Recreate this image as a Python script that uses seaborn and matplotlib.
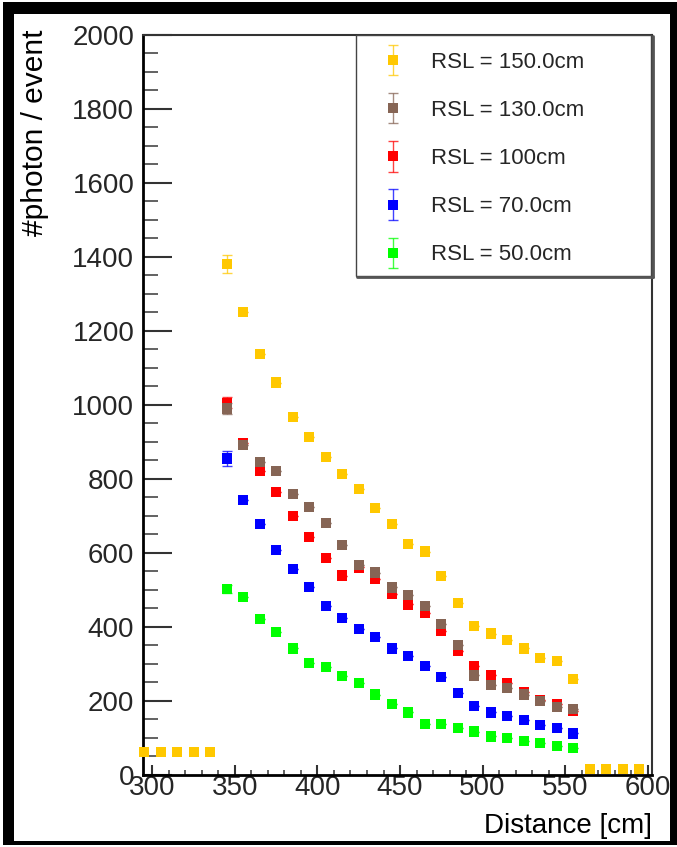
import numpy as np
import pandas as pd
import matplotlib
matplotlib.use("Agg")
import matplotlib.pyplot as plt
import seaborn as sns
from matplotlib.patches import Rectangle
from matplotlib.lines import Line2D
from matplotlib.container import ErrorbarContainer
from matplotlib.legend_handler import HandlerErrorbar
from matplotlib.ticker import MultipleLocator

# ---------------- data ----------------
distance = [345, 355, 365, 375, 385, 395, 405, 415, 425, 435, 445,
            455, 465, 475, 485, 495, 505, 515, 525, 535, 545, 555]
outer_left = [295, 305, 315, 325, 335]
outer_right = [565, 575, 585, 595]

rsl_150 = [1380, 1250, 1137, 1060, 967, 912, 859, 812, 772, 720, 677,
           624, 603, 537, 463, 402, 381, 363, 341, 315, 307, 259]
rsl_150_left = [60, 60, 60, 60, 60]
rsl_150_right = [15, 15, 15, 15]
rsl_130 = [990, 891, 846, 821, 759, 724, 681, 620, 567, 546, 506,
           485, 455, 407, 350, 268, 242, 233, 216, 199, 182, 177]
rsl_100 = [1005, 897, 821, 764, 699, 643, 585, 538, 560, 530, 488,
           460, 436, 388, 335, 294, 268, 247, 224, 202, 190, 172]
rsl_70 = [855, 742, 677, 607, 555, 507, 456, 424, 393, 372, 341,
          320, 294, 264, 220, 185, 168, 159, 147, 133, 125, 111]
rsl_50 = [502, 481, 420, 385, 341, 302, 290, 267, 247, 216, 190,
          168, 137, 137, 125, 116, 103, 99, 90, 85, 77, 72]

err_150 = [24, 0, 0, 0, 0, 0, 0, 0, 0, 0, 0, 0, 0, 0, 0, 0, 0, 0, 0, 0, 0, 0]
err_130 = [16, 0, 0, 0, 0, 0, 0, 0, 0, 0, 0, 0, 0, 0, 0, 0, 0, 0, 0, 0, 0, 0]
err_100 = [15, 0, 0, 0, 0, 0, 0, 0, 0, 0, 0, 0, 0, 0, 0, 0, 0, 0, 0, 0, 0, 0]
err_70 = [21, 0, 0, 0, 0, 0, 0, 0, 0, 0, 0, 0, 0, 0, 0, 0, 0, 0, 0, 0, 0, 0]
err_50 = [10, 0, 0, 0, 0, 0, 0, 0, 0, 0, 0, 0, 0, 0, 0, 0, 0, 0, 0, 0, 0, 0]

labels = ["RSL = 150.0cm", "RSL = 130.0cm", "RSL = 100cm",
          "RSL = 70.0cm", "RSL = 50.0cm"]
colors = ["#FFC800", "#866555", "#FF0000", "#0000FF", "#00FF00"]

x_ticks = [300, 350, 400, 450, 500, 550, 600]
y_ticks = [0, 200, 400, 600, 800, 1000, 1200, 1400, 1600, 1800, 2000]

# ---------------- build table (draw order: green, blue, red, brown, yellow) ----
series = {
    labels[0]: (outer_left + distance + outer_right,
                rsl_150_left + rsl_150 + rsl_150_right),
    labels[1]: (distance, rsl_130),
    labels[2]: (distance, rsl_100),
    labels[3]: (distance, rsl_70),
    labels[4]: (distance, rsl_50),
}
errors = {labels[0]: err_150, labels[1]: err_130, labels[2]: err_100,
          labels[3]: err_70, labels[4]: err_50}
palette = dict(zip(labels, colors))
draw_order = [labels[4], labels[3], labels[2], labels[1], labels[0]]
frames = []
for lab in draw_order:
    xs, ys = series[lab]
    frames.append(pd.DataFrame({"distance": xs, "photons": ys, "rsl": lab}))
df = pd.concat(frames, ignore_index=True)

# ---------------- figure ----------------
sns.set_theme(style="ticks")
plt.rcParams["font.family"] = ["Liberation Sans", "DejaVu Sans"]

W, H = 677, 847
fig = plt.figure(figsize=(W / 100, H / 100), dpi=100)
fig.patch.set_facecolor("white")

L, R, T, B = 142.7, 651.7, 35.0, 774.5
ax = fig.add_axes([L / W, 1 - B / H, (R - L) / W, (B - T) / H])
ax.set_facecolor("white")

# error bars (drawn below markers)
err_handles = {}
for lab in draw_order:
    xs = distance
    ys = series[lab][1] if lab != labels[0] else rsl_150
    c = ax.errorbar(xs, ys, yerr=errors[lab], fmt="none", ecolor=palette[lab],
                    elinewidth=1.0, capsize=3.5, capthick=1.0, alpha=0.75,
                    zorder=2)
    err_handles[lab] = c

sns.scatterplot(data=df, x="distance", y="photons", hue="rsl",
                hue_order=labels, palette=palette, marker="s", s=55,
                linewidth=0, legend=False, ax=ax, clip_on=False, zorder=3)

ax.set_xlim(294.1, 602.5)
ax.set_ylim(0, 2000)
ax.set_xticks(x_ticks)
ax.set_xticklabels([str(v) for v in x_ticks])
ax.set_yticks(y_ticks)
ax.set_yticklabels([str(v) for v in y_ticks])
ax.xaxis.set_minor_locator(MultipleLocator(10))
ax.yaxis.set_minor_locator(MultipleLocator(50))
ax.set_xlabel("")
ax.set_ylabel("")

ax.tick_params(axis="y", which="major", direction="in", length=21, width=1.5,
               color="#333333", labelsize=20, pad=6, left=True, right=False)
ax.tick_params(axis="y", which="minor", direction="in", length=11, width=1.3,
               color="#555555", left=True, right=False)
ax.tick_params(axis="x", which="major", direction="in", length=7, width=1.5,
               color="#333333", labelsize=20, pad=0.5, bottom=True, top=False)
ax.tick_params(axis="x", which="minor", direction="in", length=3.6, width=1.3,
               color="#555555", bottom=True, top=False)

for side in ["left", "bottom"]:
    ax.spines[side].set_color("black")
    ax.spines[side].set_linewidth(2.0)
for side in ["top", "right"]:
    ax.spines[side].set_color("#333333")
    ax.spines[side].set_linewidth(1.5)

# axis titles
fig.text(R / W, 1 - 826 / H, "Distance [cm]", ha="right", va="center",
         fontsize=20, color="black")
fig.text(35 / W, 1 - 29 / H, "#photon / event", ha="center", va="top",
         rotation=90, fontsize=21.5, color="black")

# legend box with ROOT-like shadow
lx0, lx1, ly0, ly1 = 356.0, 651.0, 35.0, 276.0
ax.add_patch(Rectangle((lx0 / W, 1 - ly1 / H), (lx1 - lx0) / W, (ly1 - ly0) / H,
                       transform=fig.transFigure, facecolor="white",
                       edgecolor="#444444", linewidth=1.0, clip_on=False,
                       zorder=4))
ax.add_line(Line2D([lx0 / W + 1 / W, lx1 / W + 1.5 / W],
                   [1 - (ly1 + 1.5) / H, 1 - (ly1 + 1.5) / H],
                   transform=fig.transFigure, color="#555555", lw=2.0,
                   clip_on=False, zorder=4))
ax.add_line(Line2D([lx1 / W + 1.5 / W, lx1 / W + 1.5 / W],
                   [1 - (ly0 + 1) / H, 1 - (ly1 + 1.5) / H],
                   transform=fig.transFigure, color="#555555", lw=2.0,
                   clip_on=False, zorder=4))

handles = []
for lab in labels:
    mk = Line2D([], [], marker="s", linestyle="none", color=palette[lab],
                markersize=7.4, markeredgewidth=0)
    handles.append((err_handles[lab], mk))
leg = ax.legend(handles, labels,
                handler_map={ErrorbarContainer: HandlerErrorbar(xerr_size=0.3, yerr_size=0.68)},
                loc="upper left", bbox_to_anchor=(382 / W, 1 - 52 / H),
                bbox_transform=fig.transFigure, frameon=False, fontsize=16,
                handlelength=1.0, handletextpad=1.2, labelspacing=1.22,
                borderpad=0, borderaxespad=0)
leg.set_zorder(6)

# outer black screenshot frame
for (x0, y0, x1, y1) in [(3, 2, 677, 14), (3, 2, 14, 845),
                         (670, 2, 677, 845), (3, 841, 677, 845)]:
    fig.patches.append(Rectangle((x0 / W, 1 - y1 / H), (x1 - x0) / W,
                                 (y1 - y0) / H, transform=fig.transFigure,
                                 facecolor="black", edgecolor="none",
                                 zorder=10))

fig.savefig("out.png", dpi=100)
